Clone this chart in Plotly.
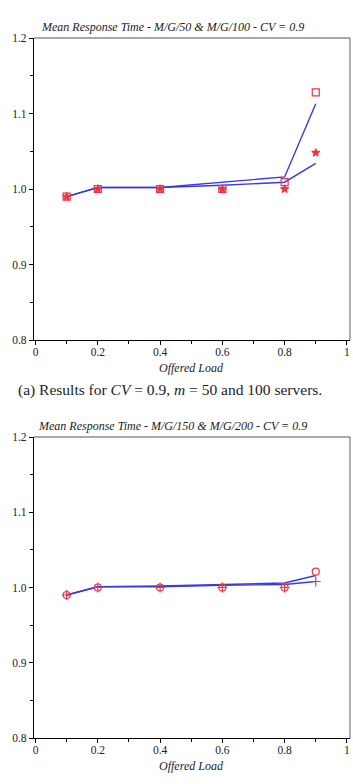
import plotly.graph_objects as go

W, H = 353, 784

load = [0.1, 0.2, 0.4, 0.6, 0.8, 0.9]

# Top chart: M/G/50 & M/G/100
sim_m50 = [0.990, 1.000, 1.000, 1.000, 1.009, 1.128]
sim_m100 = [0.990, 1.000, 1.000, 1.000, 1.000, 1.048]
model_m50 = [0.990, 1.002, 1.002, 1.009, 1.016, 1.113]
model_m100 = [0.990, 1.002, 1.002, 1.005, 1.009, 1.034]

# Bottom chart: M/G/150 & M/G/200
sim_m150 = [0.990, 1.000, 1.000, 1.000, 1.000, 1.021]
sim_m200 = [0.990, 1.000, 1.000, 1.000, 1.000, 1.008]
model_m150 = [0.990, 1.001, 1.002, 1.004, 1.006, 1.016]
model_m200 = [0.990, 1.001, 1.001, 1.003, 1.004, 1.008]

x_ticks = [0, 0.2, 0.4, 0.6, 0.8, 1]
x_ticklabels = ["0", "0.2", "0.4", "0.6", "0.8", "1"]
y_ticks = [0.8, 0.9, 1.0, 1.1, 1.2]
y_ticklabels = ["0.8", "0.9", "1.0", "1.1", "1.2"]

titles = ["Mean Response Time - M/G/50 & M/G/100 - CV = 0.9",
          "Mean Response Time - M/G/150 & M/G/200 - CV = 0.9"]
captions = ["(a) Results for <i>CV</i> = 0.9, <i>m</i> = 50 and 100 servers.",
            "(b) Results for <i>CV</i> = 0.9, <i>m</i> = 150 and 200 servers."]
xlabel = "Offered Load"

def py(px):
    return 1 - px / H

def pxx(px):
    return px / W

BLUE = "#3a3ae0"
RED = "#ee3344"
SERIF = "Liberation Serif, Times New Roman, serif"

fig = go.Figure()

panels = [
    dict(top=38, bottom=340, xa="x", ya="y",
         lines=[model_m50, model_m100],
         sims=[(sim_m50, "square-open", 7), (sim_m100, "star", 6)]),
    dict(top=437, bottom=738, xa="x2", ya="y2",
         lines=[model_m150, model_m200],
         sims=[(sim_m150, "circle-open", 7), (sim_m200, "cross-thin-open", 7)]),
]

left, right = 34, 350

for i, p in enumerate(panels):
    for ln in p["lines"]:
        fig.add_trace(go.Scatter(x=load, y=ln, mode="lines", xaxis=p["xa"], yaxis=p["ya"],
                                 line=dict(color=BLUE, width=1.4), showlegend=False,
                                 hoverinfo="skip"))
    for vals, sym, sz in p["sims"]:
        fig.add_trace(go.Scatter(x=load, y=vals, mode="markers", xaxis=p["xa"], yaxis=p["ya"],
                                 marker=dict(symbol=sym, size=sz, color=RED,
                                             line=dict(color=RED, width=1.2)),
                                 showlegend=False))
    xdom = [pxx(left), pxx(right)]
    ydom = [py(p["bottom"]), py(p["top"])]
    axis_common = dict(showline=True, linecolor="black", linewidth=1.2, ticks="outside",
                       ticklen=4, tickwidth=1, tickcolor="black", showgrid=False,
                       zeroline=False, tickfont=dict(family=SERIF, size=11.5, color="#222"),
                       mirror=False, automargin=False)
    xkey = "xaxis" if i == 0 else "xaxis2"
    ykey = "yaxis" if i == 0 else "yaxis2"
    fig.layout[xkey] = dict(domain=xdom, range=[-0.005, 1.01], tickvals=x_ticks,
                            ticktext=x_ticklabels, anchor=p["ya"], ticklabelstandoff=-3,
                            minor=dict(dtick=0.1, tick0=0, ticks="outside", ticklen=3,
                                       tickcolor="black", showgrid=False),
                            **axis_common)
    fig.layout[ykey] = dict(domain=ydom, range=[0.8, 1.2], tickvals=y_ticks,
                            ticktext=y_ticklabels, anchor=p["xa"],
                            minor=dict(dtick=0.05, tick0=0.8, ticks="outside", ticklen=3,
                                       tickcolor="black", showgrid=False),
                            **axis_common)
    # top and right frame lines
    fig.add_shape(type="line", xref="paper", yref="paper", x0=xdom[0], x1=xdom[1],
                  y0=ydom[1], y1=ydom[1], line=dict(color="#555", width=1.2))
    fig.add_shape(type="line", xref="paper", yref="paper", x0=xdom[1], x1=xdom[1],
                  y0=ydom[0], y1=ydom[1], line=dict(color="#777", width=1.2))
    # title
    fig.add_annotation(text="<i>" + titles[i] + "</i>", x=pxx(172), y=py(p["top"] - 11),
                       xref="paper", yref="paper", showarrow=False, xanchor="center",
                       yanchor="middle", font=dict(family=SERIF, size=12, color="#222"))
    fig.add_annotation(text="<i>" + xlabel + "</i>", x=pxx(191), y=py(p["bottom"] + 28),
                       xref="paper", yref="paper", showarrow=False, xanchor="center",
                       yanchor="middle", font=dict(family=SERIF, size=12, color="#222"))

fig.add_annotation(text=captions[0], x=pxx(170), y=py(390), xref="paper", yref="paper",
                   showarrow=False, xanchor="center", yanchor="middle",
                   font=dict(family=SERIF, size=15.5, color="#222"))
fig.add_annotation(text=captions[1], x=pxx(170), y=py(782), xref="paper", yref="paper",
                   showarrow=False, xanchor="center", yanchor="top",
                   font=dict(family=SERIF, size=15.5, color="#222"))

fig.update_layout(width=W, height=H, margin=dict(l=0, r=0, t=0, b=0),
                  paper_bgcolor="white", plot_bgcolor="white")

fig.write_html("out.html")
